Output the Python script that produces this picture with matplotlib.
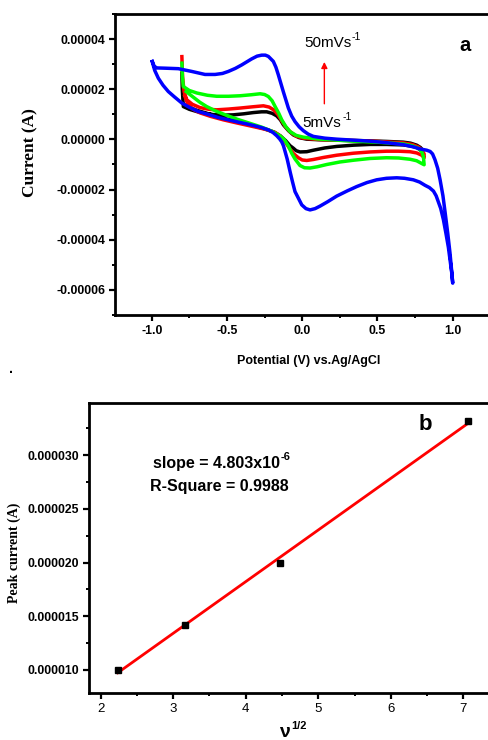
import matplotlib
matplotlib.use('Agg')
import matplotlib.pyplot as plt
import numpy as np
from matplotlib.ticker import MultipleLocator, FormatStrFormatter

plt.rcParams['font.family'] = ['Liberation Sans', 'DejaVu Sans']

# CV curves, potential (V) and current (uA)
black_x = [-0.80, -0.797, -0.79, -0.75, -0.70, -0.64, -0.59, -0.52, -0.458, -0.39, -0.325, -0.27, -0.236, -0.20, -0.17,
           -0.145, -0.125, -0.09, -0.059, -0.02, 0.03, 0.12, 0.229, 0.4, 0.56, 0.672, 0.72, 0.761, 0.785, 0.80,
           0.794, 0.761, 0.72, 0.672, 0.56, 0.45, 0.34, 0.229, 0.15, 0.074, 0.03, -0.015, -0.04, -0.059, -0.081,
           -0.11, -0.147, -0.19, -0.25, -0.347, -0.43, -0.524, -0.61, -0.70, -0.75, -0.79]
black_y = [27.1, 20.0, 13.1, 12.0, 11.1, 10.3, 9.9, 9.7, 9.8, 10.2, 10.7, 11.0, 11.0, 10.4, 9.4,
           7.8, 5.8, 3.4, 1.8, 0.7, 0.1, -0.15, -0.3, -0.5, -0.8, -1.1, -1.5, -2.3, -3.2, -4.2,
           -4.6, -3.2, -2.6, -2.2, -2.0, -2.0, -2.3, -2.8, -3.4, -4.3, -4.9, -5.0, -4.5, -3.5, -2.5,
           -0.5, 1.5, 3.0, 4.2, 5.8, 7.0, 8.5, 10.0, 11.6, 12.8, 14.0]

red_x = [-0.80, -0.795, -0.785, -0.767, -0.73, -0.68, -0.62, -0.568, -0.49, -0.413, -0.33, -0.258, -0.22, -0.19, -0.16,
         -0.136, -0.11, -0.081, -0.04, 0.007, 0.1, 0.229, 0.34, 0.5, 0.672, 0.73, 0.772, 0.795, 0.81,
         0.81, 0.794, 0.761, 0.716, 0.64, 0.56, 0.45, 0.34, 0.229, 0.14, 0.074, 0.03, 0.0, -0.026, -0.059,
         -0.085, -0.114, -0.145, -0.18, -0.25, -0.347, -0.43, -0.524, -0.61, -0.68, -0.73, -0.76, -0.785]
red_y = [33.7, 25.0, 19.0, 15.8, 14.0, 12.7, 12.0, 11.8, 12.1, 12.5, 13.0, 13.4, 12.9, 11.8, 9.8,
         7.4, 5.0, 3.1, 1.3, 0.5, 0.0, -0.3, -0.45, -0.8, -1.4, -2.0, -3.0, -4.2, -5.8,
         -7.3, -6.3, -5.4, -4.9, -4.7, -4.7, -5.0, -5.5, -6.3, -7.2, -8.0, -8.4, -8.2, -7.3, -5.6,
         -3.5, -0.9, 1.3, 2.8, 4.1, 5.4, 6.5, 7.8, 9.2, 10.6, 12.2, 14.0, 18.0]

green_x = [-0.80, -0.796, -0.79, -0.75, -0.70, -0.63, -0.568, -0.49, -0.413, -0.34, -0.28, -0.25, -0.225, -0.20, -0.18,
           -0.155, -0.136, -0.11, -0.081, -0.04, 0.007, 0.1, 0.229, 0.34, 0.5, 0.672, 0.73, 0.772, 0.795, 0.805, 0.81,
           0.794, 0.76, 0.716, 0.64, 0.56, 0.45, 0.34, 0.25, 0.163, 0.1, 0.052, 0.015, -0.015, -0.048, -0.07,
           -0.092, -0.12, -0.147, -0.203, -0.27, -0.347, -0.43, -0.502, -0.57, -0.635, -0.68, -0.723, -0.78]
green_y = [31.1, 25.0, 21.1, 19.5, 18.5, 17.6, 17.2, 17.2, 17.4, 17.8, 18.2, 17.9, 17.1, 15.4, 13.1,
           10.3, 7.8, 5.2, 3.1, 1.6, 0.9, 0.2, -0.3, -0.7, -1.1, -1.8, -2.5, -3.5, -5.0, -6.8, -10.1,
           -9.6, -8.5, -7.9, -7.4, -7.3, -7.6, -8.3, -9.0, -10.0, -10.9, -11.4, -11.3, -10.4, -7.8, -5.5,
           -2.6, 0.0, 1.4, 3.3, 4.9, 6.4, 8.0, 9.6, 11.2, 13.1, 14.8, 16.8, 19.5]

blue_x = [-1.0, -0.983, -0.965, -0.912, -0.823, -0.734, -0.646, -0.579, -0.53, -0.491, -0.445, -0.402, -0.336, -0.30,
          -0.269, -0.245, -0.225, -0.192, -0.175, -0.159, -0.126, -0.092, -0.07, -0.048, -0.02, 0.007, 0.04, 0.074,
          0.15, 0.229, 0.34, 0.45, 0.56, 0.672, 0.74, 0.783, 0.827, 0.85, 0.866, 0.882, 0.9, 0.916, 0.935, 0.95,
          0.967, 0.982, 0.993, 1.0,
          0.993, 0.982, 0.971, 0.955, 0.938, 0.92, 0.905, 0.89, 0.872, 0.845, 0.816, 0.78, 0.738, 0.68, 0.628,
          0.56, 0.495, 0.43, 0.362, 0.30, 0.229, 0.17, 0.118, 0.085, 0.052, 0.025, -0.003, -0.025, -0.048, -0.065,
          -0.081, -0.10, -0.114, -0.125, -0.136, -0.15, -0.17, -0.195, -0.225, -0.27, -0.314, -0.37, -0.425, -0.49,
          -0.557, -0.62, -0.69, -0.75, -0.80, -0.85, -0.89, -0.925, -0.956, -0.98, -1.0]
blue_y = [31.7, 29.1, 28.5, 28.4, 28.2, 27.1, 25.9, 25.9, 26.3, 27.1, 28.3, 29.7, 32.1, 33.2,
          33.6, 33.6, 33.1, 31.1, 28.8, 25.8, 19.1, 12.5, 9.3, 7.1, 5.0, 3.5, 2.1, 1.2,
          0.5, 0.1, -0.3, -0.7, -1.3, -2.1, -3.0, -3.8, -4.3, -4.8, -5.8, -8.1, -11.5, -16.1, -22.5, -29.4,
          -37.5, -45.4, -52.5, -57.3,
          -53.0, -48.0, -43.0, -37.5, -32.0, -27.5, -25.0, -22.5, -20.6, -19.2, -18.3, -17.0, -16.1, -15.5, -15.3,
          -15.5, -16.1, -17.2, -18.8, -20.5, -22.6, -24.8, -26.6, -27.6, -28.1, -27.6, -26.1, -23.5, -20.8, -16.8,
          -12.8, -7.8, -4.8, -2.5, -1.0, 0.2, 1.5, 2.8, 3.8, 4.7, 5.4, 6.2, 6.9, 7.8,
          8.7, 9.9, 11.1, 12.8, 14.5, 17.0, 19.1, 21.6, 24.4, 27.5, 31.7]

# peak current vs sqrt(scan rate)
sqrt_v = [2.236, 3.162, 4.472, 7.071]
peak_i = [1.0e-5, 1.42e-5, 2.0e-5, 3.32e-5]

fig = plt.figure(figsize=(4.89, 7.4), dpi=100)

# ---- panel a ----
ax1 = fig.add_axes([115/489, 1-315/740, 388/489, 301/740])
for xs, ys, c in [(black_x, black_y, 'black'), (red_x, red_y, 'red'),
                  (green_x, green_y, '#00ff00'), (blue_x, blue_y, 'blue')]:
    ax1.plot(xs, np.array(ys)*1e-6, color=c, lw=2.5, solid_joinstyle='round', solid_capstyle='butt')
ax1.set_xlim(-1.244, 1.334)
ax1.set_ylim(-7e-5, 5e-5)
ax1.xaxis.set_minor_locator(MultipleLocator(0.25))
ax1.yaxis.set_minor_locator(MultipleLocator(1e-5))
ax1.xaxis.set_major_formatter(FormatStrFormatter('%.1f'))
ax1.yaxis.set_major_formatter(FormatStrFormatter('%.5f'))
ax1.set_xticks([-1.0, -0.5, 0.0, 0.5, 1.0])
ax1.set_yticks([-6e-5, -4e-5, -2e-5, 0, 2e-5, 4e-5])

ax1.annotate('', xy=(0.147, 32.0e-6), xytext=(0.147, 13.1e-6),
             arrowprops=dict(arrowstyle='-|>', color='red', lw=1.0, mutation_scale=9))
ax1.text(0.012, 36.8e-6, '50mVs', fontsize=11, va='baseline')
ax1.text(0.33, 39.6e-6, '-1', fontsize=7.5, va='baseline')
ax1.text(0.003, 5.0e-6, '5mVs', fontsize=11, va='baseline')
ax1.text(0.267, 7.8e-6, '-1', fontsize=7.5, va='baseline')
ax1.text(1.042, 35.1e-6, 'a', fontsize=14.5, fontweight='bold', va='baseline')

# ---- panel b ----
ax2 = fig.add_axes([89/489, 1-693/740, 406/489, 290/740])
fit = np.polyfit(sqrt_v, peak_i, 1)
xf = np.array([min(sqrt_v), max(sqrt_v)])
ax2.plot(xf, np.polyval(fit, xf), color='red', lw=2.0, zorder=2)
ax2.plot(sqrt_v, peak_i, 's', color='black', ms=5, zorder=3)
ax2.set_xlim(1.839, 7.437)
ax2.set_ylim(7.86e-6, 3.484e-5)
ax2.xaxis.set_minor_locator(MultipleLocator(0.5))
ax2.yaxis.set_minor_locator(MultipleLocator(2.5e-6))
ax2.yaxis.set_major_formatter(FormatStrFormatter('%.6f'))
ax2.set_xticks([2, 3, 4, 5, 6, 7])
ax2.set_yticks([1e-5, 1.5e-5, 2e-5, 2.5e-5, 3e-5])

ax2.text(6.377, 3.233e-5, 'b', fontsize=16, fontweight='bold', va='baseline')
ax2.text(2.726, 2.879e-5, 'slope = 4.803x10', fontsize=11.5, fontweight='bold', va='baseline')
ax2.text(4.475, 2.95e-5, '-6', fontsize=8, fontweight='bold', va='baseline')
ax2.text(2.68, 2.665e-5, 'R-Square = 0.9988', fontsize=11.5, fontweight='bold', va='baseline')

for ax in (ax1, ax2):
    for s in ax.spines.values():
        s.set_linewidth(2.0)
    ax.tick_params(which='major', direction='out', length=4, width=1.6, pad=3, labelsize=8.8)
    ax.tick_params(which='minor', direction='out', length=2.5, width=1.4)
    ax.tick_params(top=False, right=False, which='both')
    for lab in ax.get_yticklabels():
        lab.set_fontweight('bold')
for lab in ax1.get_xticklabels():
    lab.set_fontweight('bold')
ax2.tick_params(axis='x', labelsize=9.5)

fig.text(30/489, 1-153/740, 'Current (A)', rotation=90, ha='center', va='center',
         family='Liberation Serif', fontweight='bold', fontsize=12.5)
fig.text(309/489, 1-361/740, 'Potential (V) vs.Ag/AgCl', ha='center', va='center',
         fontweight='bold', fontsize=9)
fig.text(11/489, 1-373/740, '.', ha='center', va='baseline', fontsize=10, fontweight='bold')
fig.text(14/489, 1-553/740, 'Peak current (A)', rotation=90, ha='center', va='center',
         family='Liberation Serif', fontweight='bold', fontsize=10)
fig.text(279/489, 1-737/740, 'ν', ha='left', va='baseline', fontweight='bold', fontsize=14)
fig.text(291/489, 1-729/740, '1/2', ha='left', va='baseline', fontweight='bold', fontsize=8)

fig.savefig('out.png', dpi=100)
